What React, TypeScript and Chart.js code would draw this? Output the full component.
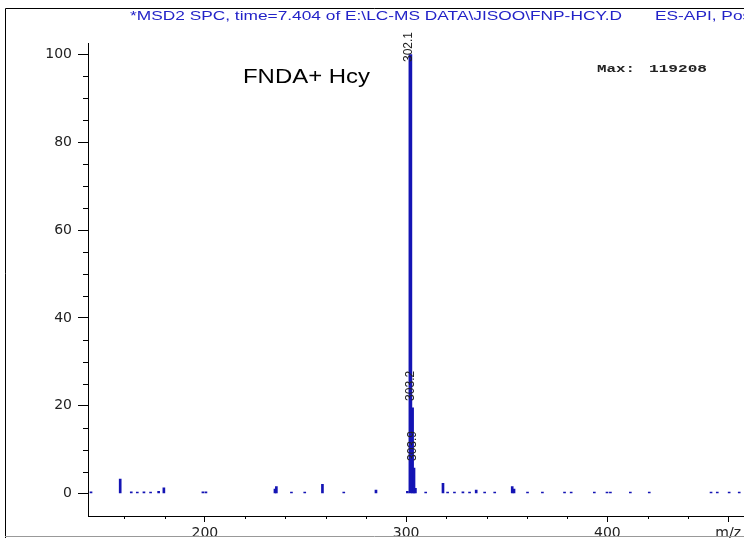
import React, { useEffect, useRef } from 'react';
import { Chart, registerables } from 'chart.js';

Chart.register(...registerables);

// ---- data ----
const basePeakMz = [302.1];
const basePeakInt = [100];

const peakMz = [
  143.4, 157.9, 163.4, 166.4, 169.7, 173.0, 177.0, 179.6, 199.0, 200.5,
  234.8, 235.5, 243.0, 249.6, 258.4, 269.0, 285.0, 300.6, 303.2, 303.9,
  304.6, 309.7, 318.3, 320.6, 324.0, 328.2, 331.5, 334.8, 339.0, 344.0,
  352.7, 353.6, 360.3, 367.7, 378.7, 382.0, 393.5, 399.8, 401.5, 411.4,
  420.8, 451.5, 454.6, 460.5, 465.5,
];
const peakInt = [
  0.4, 3.3, 0.4, 0.3, 0.4, 0.3, 0.5, 1.3, 0.4, 0.4,
  1.0, 1.6, 0.3, 0.3, 2.1, 0.3, 0.8, 0.5, 19.5, 5.8,
  1.2, 0.3, 2.3, 0.3, 0.3, 0.4, 0.3, 0.8, 0.3, 0.3,
  1.6, 1.0, 0.3, 0.3, 0.3, 0.3, 0.3, 0.3, 0.3, 0.3,
  0.3, 0.3, 0.3, 0.3, 0.3,
];

const labeledMz = [302.1, 303.2, 303.9];
const labeledInt = [100, 19.5, 5.8];
const labeledText = ['302.1', '303.2', '303.9'];

const xMajorTicks = [200, 300, 400];
const xMinorStep = 20;
const xAxisName = 'm/z';
const xAxisNameAt = 460;
const yMajorTicks = [0, 20, 40, 60, 80, 100];
const yMinorStep = 5;

const titleLeft = '*MSD2 SPC, time=7.404 of E:\\LC-MS DATA\\JISOO\\FNP-HCY.D';
const titleRight = 'ES-API, Pos';
const sampleLabel = 'FNDA+ Hcy';
const maxLabel = 'Max:';
const maxValue = '119208';

const BLUE = '#1414b4';
const TEXT_BLUE = '#2323c8';

function drawStretched(ctx: CanvasRenderingContext2D, text: string, x: number, y: number, sx: number) {
  ctx.save();
  ctx.translate(x, y);
  ctx.scale(sx, 1);
  ctx.fillText(text, 0, 0);
  ctx.restore();
}

function fitFactor(ctx: CanvasRenderingContext2D, text: string, width: number) {
  return width / ctx.measureText(text).width;
}

const decorPlugin = {
  id: 'decor',
  afterDraw(chart: any) {
    const ctx: CanvasRenderingContext2D = chart.ctx;
    const xs = chart.scales.x;
    const ys = chart.scales.y;
    const area = chart.chartArea;
    ctx.save();

    // frame
    ctx.strokeStyle = '#000';
    ctx.lineWidth = 1;
    ctx.beginPath();
    ctx.moveTo(5.5, 538);
    ctx.lineTo(5.5, 8.5);
    ctx.lineTo(744, 8.5);
    ctx.stroke();
    ctx.strokeStyle = '#999';
    ctx.beginPath();
    ctx.moveTo(5, 536.5);
    ctx.lineTo(744, 536.5);
    ctx.stroke();

    // minor ticks
    ctx.strokeStyle = '#000';
    ctx.beginPath();
    for (let v = 160; v <= xs.max; v += xMinorStep) {
      if (xMajorTicks.includes(v) || v === xAxisNameAt) continue;
      const px = Math.round(xs.getPixelForValue(v)) + 0.5;
      ctx.moveTo(px, area.bottom);
      ctx.lineTo(px, area.bottom + 3);
    }
    for (let v = 5; v < 100; v += yMinorStep) {
      if (yMajorTicks.includes(v)) continue;
      const py = Math.round(ys.getPixelForValue(v)) + 0.5;
      ctx.moveTo(area.left - 5, py);
      ctx.lineTo(area.left, py);
    }
    ctx.stroke();

    // title
    ctx.fillStyle = TEXT_BLUE;
    ctx.font = '13px "Liberation Sans", Arial, sans-serif';
    ctx.textBaseline = 'alphabetic';
    ctx.textAlign = 'left';
    const tf = fitFactor(ctx, titleLeft, 492);
    drawStretched(ctx, titleLeft, 130, 20, tf);
    drawStretched(ctx, titleRight, 655, 20, tf);

    // sample label
    ctx.fillStyle = '#000';
    ctx.font = '20px "Liberation Sans", Arial, sans-serif';
    drawStretched(ctx, sampleLabel, 243, 83, fitFactor(ctx, sampleLabel, 127));

    // Max label
    ctx.fillStyle = '#222';
    ctx.font = 'bold 11px "Liberation Mono", monospace';
    ctx.textBaseline = 'middle';
    drawStretched(ctx, maxLabel, 597, 69, fitFactor(ctx, maxLabel, 38));
    drawStretched(ctx, maxValue, 649, 69, fitFactor(ctx, maxValue, 58));

    // peak labels
    ctx.fillStyle = '#222';
    ctx.font = '12px "Liberation Sans", Arial, sans-serif';
    ctx.textBaseline = 'middle';
    ctx.textAlign = 'left';
    labeledMz.forEach((mz, i) => {
      const px = xs.getPixelForValue(mz) - 1.5;
      const top = ys.getPixelForValue(labeledInt[i]);
      const tw = ctx.measureText(labeledText[i]).width;
      const bottom = Math.max(top - 7, 32 + tw);
      ctx.save();
      ctx.translate(px, bottom);
      ctx.rotate(-Math.PI / 2);
      ctx.fillText(labeledText[i], 0, 0);
      ctx.restore();
    });

    ctx.restore();
  },
};

export default function App() {
  const ref = useRef<HTMLCanvasElement | null>(null);
  useEffect(() => {
    if (!ref.current) return;
    const chart = new Chart(ref.current, {
      type: 'bar',
      data: {
        datasets: [
          {
            label: 'base',
            data: basePeakMz.map((x, i) => ({ x, y: basePeakInt[i] })),
            backgroundColor: BLUE,
            borderWidth: 0,
            barThickness: 3,
            grouped: false,
          } as any,
          {
            label: 'peaks',
            data: peakMz.map((x, i) => ({ x, y: peakInt[i] })),
            backgroundColor: BLUE,
            borderWidth: 0,
            barThickness: 2,
            grouped: false,
          } as any,
        ],
      },
      options: {
        responsive: false,
        animation: false,
        devicePixelRatio: 1,
        layout: { padding: { top: 43, left: 0, right: 0, bottom: 0 } },
        plugins: { legend: { display: false }, tooltip: { enabled: false }, title: { display: false } },
        scales: {
          x: {
            type: 'linear',
            offset: false,
            min: 141.9,
            max: 467.5,
            afterFit: (s: any) => { s.height = 22; },
            afterBuildTicks: (s: any) => { s.ticks = [...xMajorTicks, xAxisNameAt].map((v) => ({ value: v })); },
            ticks: {
              autoSkip: false,
              maxRotation: 0,
              padding: 3,
              color: '#222',
              font: { family: 'DejaVu Sans', size: 14 },
              callback: (v: any) => (v === xAxisNameAt ? xAxisName : String(v)),
            },
            grid: { offset: false, drawOnChartArea: false, drawTicks: true, tickLength: 6, tickColor: '#000' },
            border: { display: true, color: '#000', width: 1 },
          },
          y: {
            min: -5.13,
            max: 102.62,
            afterFit: (s: any) => { s.width = 88; },
            afterBuildTicks: (s: any) => { s.ticks = yMajorTicks.map((v) => ({ value: v })); },
            ticks: {
              padding: 6,
              color: '#222',
              font: { family: 'DejaVu Sans', size: 14 },
            },
            grid: { drawOnChartArea: false, drawTicks: true, tickLength: 10, tickColor: '#000' },
            border: { display: true, color: '#000', width: 1 },
          },
        },
      } as any,
      plugins: [decorPlugin],
    });
    return () => chart.destroy();
  }, []);
  return (
    <div style={{ position: 'absolute', left: 0, top: 0, width: 744, height: 538, background: '#fff' }}>
      <canvas ref={ref} width={744} height={538} style={{ display: 'block' }} />
    </div>
  );
}
